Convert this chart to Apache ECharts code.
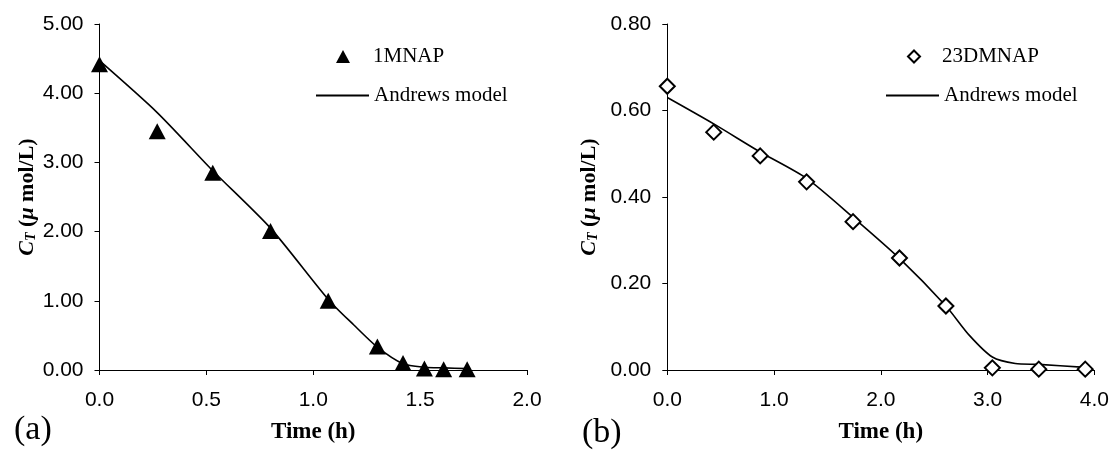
<!DOCTYPE html>
<html>
<head>
<meta charset="utf-8">
<script src="https://cdn.jsdelivr.net/npm/echarts@6/dist/echarts.min.js"></script>
<style>
  html, body { margin: 0; padding: 0; background: #fff; }
  #chart { width: 1112px; height: 455px; }
</style>
</head>
<body>
<div id="chart"></div>
<script>
// Panel (a): 1MNAP measured concentration and Andrews model fit
const timeA = [0, 0.27, 0.53, 0.80, 1.07, 1.30, 1.42, 1.52, 1.61, 1.72];
const ctA = [4.42, 3.45, 2.85, 2.01, 1.00, 0.34, 0.10, 0.02, 0.01, 0.01];
const modelTimeA = [0, 0.27, 0.53, 0.80, 1.07, 1.19, 1.30, 1.42, 1.52, 1.61, 1.72];
const modelA = [4.47, 3.72, 2.88, 2.05, 1.02, 0.65, 0.33, 0.09, 0.04, 0.03, 0.02];

// Panel (b): 23DMNAP measured concentration and Andrews model fit
const timeB = [0, 0.435, 0.87, 1.305, 1.74, 2.175, 2.61, 3.045, 3.48, 3.915];
const ctB = [0.656, 0.550, 0.495, 0.435, 0.343, 0.259, 0.148, 0.005, 0.002, 0.002];
const modelTimeB = [0, 0.435, 0.87, 1.305, 1.74, 2.175, 2.61, 2.83, 3.045, 3.26, 3.48, 3.915];
const modelB = [0.630, 0.569, 0.504, 0.443, 0.353, 0.258, 0.148, 0.080, 0.030, 0.015, 0.013, 0.006];

const seriesNames = ['1MNAP', '23DMNAP', 'Andrews model'];
const panelLabels = ['(a)', '(b)'];
const xTitle = 'Time (h)';

function pairs(xs, ys) { return xs.map((x, i) => [x, ys[i]]); }

const SANS = 'Liberation Sans';
const SERIF = 'Liberation Serif';

const axisLineStyle = { lineStyle: { color: '#000', width: 1 } };
const tickStyle = { show: true, length: 5, lineStyle: { color: '#000', width: 1 } };

// C_T (μ mol/L) with an italic subscript T
const yName = '{c|C}{s|T}{b| (}{m|\u03BC}{b| mol/L)}';
const yRich = {
  c: { fontFamily: SERIF, fontSize: 22, fontWeight: 'bold', fontStyle: 'italic', color: '#000' },
  s: { fontFamily: SERIF, fontSize: 14, fontWeight: 'bold', fontStyle: 'italic', color: '#000', padding: [8, 0, 0, 0] },
  b: { fontFamily: SERIF, fontSize: 22, fontWeight: 'bold', color: '#000' },
  m: { fontFamily: SERIF, fontSize: 22, fontWeight: 'bold', fontStyle: 'italic', color: '#000' }
};

function xAxis(gridIndex, max, interval) {
  return {
    type: 'value', gridIndex, min: 0, max, interval,
    name: xTitle, nameLocation: 'middle', nameGap: 51,
    nameTextStyle: { fontFamily: SERIF, fontSize: 23, fontWeight: 'bold', color: '#000' },
    axisLine: axisLineStyle, axisTick: tickStyle, splitLine: { show: false },
    axisLabel: { margin: 20, fontFamily: SANS, fontSize: 21, color: '#000', formatter: v => v.toFixed(1) }
  };
}

function yAxis(gridIndex, max, interval, gap) {
  return {
    type: 'value', gridIndex, min: 0, max, interval,
    name: yName, nameLocation: 'middle', nameRotate: 90, nameGap: gap,
    nameTextStyle: { rich: yRich },
    axisLine: { show: true, lineStyle: { color: '#000', width: 1 } },
    axisTick: tickStyle, splitLine: { show: false },
    axisLabel: { margin: 16, fontFamily: SANS, fontSize: 21, color: '#000', formatter: v => v.toFixed(2) }
  };
}

// One legend entry per component so each icon keeps its own size
function legendEntry(name, icon, left, top, w, h, textPadLeft) {
  return {
    left, top, orient: 'vertical', itemWidth: w, itemHeight: h,
    selectedMode: false,
    data: [{ name, icon }],
    textStyle: { fontFamily: SERIF, fontSize: 21, color: '#000', lineHeight: 21, padding: [0, 0, 0, textPadLeft] }
  };
}

const chart = echarts.init(document.getElementById('chart'), null, { renderer: 'canvas' });

chart.setOption({
  animation: false,
  backgroundColor: '#fff',
  title: [
    { text: panelLabels[0], left: 9, top: 408, textStyle: { fontFamily: SERIF, fontSize: 34, fontWeight: 'normal', color: '#000' } },
    { text: panelLabels[1], left: 577, top: 411, textStyle: { fontFamily: SERIF, fontSize: 34, fontWeight: 'normal', color: '#000' } }
  ],
  grid: [
    { left: 99.5, width: 427.5, top: 24, height: 346 },
    { left: 667.3, width: 427, top: 24, height: 346 }
  ],
  xAxis: [xAxis(0, 2, 0.5), xAxis(1, 4, 1)],
  yAxis: [yAxis(0, 5, 1, 61), yAxis(1, 0.8, 0.2, 67)],
  legend: [
    legendEntry(seriesNames[0], 'triangle', 331, 41, 14, 13, 18),
    legendEntry(seriesNames[2], 'rect', 311, 80, 53, 2, 0),
    legendEntry(seriesNames[1], 'diamond', 902, 41, 12, 12, 17),
    legendEntry(seriesNames[2], 'rect', 881, 80, 53, 2, 0)
  ],
  series: [
    {
      name: seriesNames[2], type: 'line', xAxisIndex: 0, yAxisIndex: 0,
      data: pairs(modelTimeA, modelA), smooth: 0.25, symbol: 'none',
      lineStyle: { color: '#000', width: 1.6 }, itemStyle: { color: '#000' }, z: 2
    },
    {
      name: seriesNames[0], type: 'scatter', xAxisIndex: 0, yAxisIndex: 0,
      data: pairs(timeA, ctA), symbol: 'triangle', symbolSize: [17, 16],
      itemStyle: { color: '#000', opacity: 1 }, z: 3
    },
    {
      name: seriesNames[2], type: 'line', xAxisIndex: 1, yAxisIndex: 1,
      data: pairs(modelTimeB, modelB), smooth: 0.25, symbol: 'none',
      lineStyle: { color: '#000', width: 1.6 }, itemStyle: { color: '#000' }, z: 2
    },
    {
      name: seriesNames[1], type: 'scatter', xAxisIndex: 1, yAxisIndex: 1,
      data: pairs(timeB, ctB), symbol: 'diamond', symbolSize: 15,
      itemStyle: { color: '#fff', borderColor: '#000', borderWidth: 2, opacity: 1 }, z: 3
    }
  ]
});
</script>
</body>
</html>
